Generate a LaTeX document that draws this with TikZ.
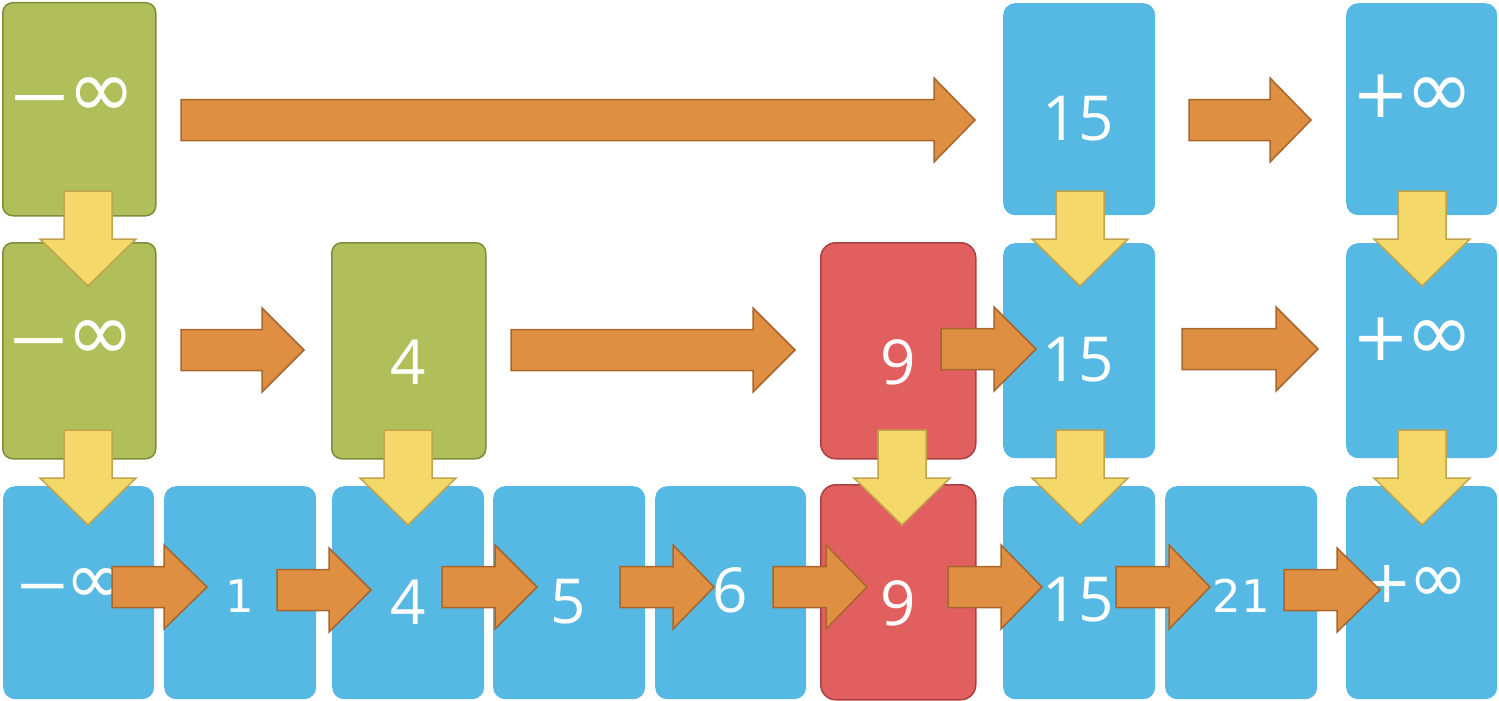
\documentclass[tikz,border=0pt]{standalone}
\usepackage{fontspec}
\setmainfont{Open Sans}
\newfontfamily\symfont{DejaVu Sans}
\definecolor{cblue}{HTML}{56B9E3}
\definecolor{cgreen}{HTML}{B0BF5A}
\definecolor{cgreenb}{HTML}{7F8C3C}
\definecolor{cred}{HTML}{E25F5F}
\definecolor{credb}{HTML}{A8413F}
\definecolor{corange}{HTML}{DF8F41}
\definecolor{corangeb}{HTML}{A8652C}
\definecolor{cyellow}{HTML}{F4D96A}
\definecolor{cyellowb}{HTML}{C0A44C}
\tikzset{
  box/.style={minimum width=152pt, minimum height=213pt, inner sep=0pt, anchor=north west},
  bluebox/.style={box, fill=cblue, rounded corners=12pt},
  greenbox/.style={box, fill=cgreen, draw=cgreenb, line width=1.5pt, rounded corners=10pt},
  redbox/.style={box, fill=cred, draw=credb, line width=1.5pt, rounded corners=15pt},
  num/.style={text=white, inner sep=0pt, font=\fontsize{62}{62}\selectfont},
  smallnum/.style={text=white, inner sep=0pt, font=\symfont\fontsize{45}{45}\selectfont},
  inf/.style={text=white, inner sep=0pt, anchor=base, font=\symfont},
  oarrow/.style={fill=corange, draw=corangeb, line width=1.5pt, line join=miter},
  yarrow/.style={fill=cyellow, draw=cyellowb, line width=1.5pt, line join=miter}
}
% sign size, infinity size
\newcommand{\minf}[2]{\scalebox{1.25}[1]{\fontsize{#1}{#1}\selectfont −}\kern-5pt{\fontsize{#2}{#2}\selectfont ∞}}
\newcommand{\pinf}[2]{{\fontsize{#1}{#1}\selectfont +}\kern-4pt{\fontsize{#2}{#2}\selectfont ∞}}
\newcommand{\harr}[4]{%
  \draw[oarrow] ({#1},{#4-20.5}) -- ({#2},{#4-20.5}) -- ({#2},{#4-42}) -- ({#3},{#4})
    -- ({#2},{#4+42}) -- ({#2},{#4+20.5}) -- ({#1},{#4+20.5}) -- cycle;}
\newcommand{\varr}[2]{%
  \draw[yarrow] ({#1-24},{#2}) -- ({#1+24},{#2}) -- ({#1+24},{#2+48}) -- ({#1+48},{#2+48})
    -- ({#1},{#2+95}) -- ({#1-48},{#2+48}) -- ({#1-24},{#2+48}) -- cycle;}
\begin{document}
\begin{tikzpicture}[x=1pt, y=-1pt]
\useasboundingbox (0,0) rectangle (1499,701);
% row 1
\node[greenbox, minimum width=153pt] (g1) at (2,2) {};
\node[bluebox, minimum height=212pt] (b1a) at (1003,3) {};
\node[bluebox, minimum width=151pt, minimum height=212pt] (b1b) at (1346,3) {};
% row 2
\node[greenbox, minimum width=153pt, minimum height=216pt] (g2a) at (2,242) {};
\node[greenbox, minimum width=154pt, minimum height=216pt] (g2b) at (331,242) {};
\node[redbox, minimum width=155pt, minimum height=216pt] (r2) at (820,242) {};
\node[bluebox, minimum height=215pt] (b2a) at (1003,243) {};
\node[bluebox, minimum width=151pt, minimum height=215pt] (b2b) at (1346,243) {};
% row 3
\node[bluebox, minimum width=151pt] (b3a) at (3,486) {};
\node[bluebox] (b3b) at (164,486) {};
\node[bluebox] (b3c) at (332,486) {};
\node[bluebox] (b3d) at (493,486) {};
\node[bluebox, minimum width=151pt] (b3e) at (655,486) {};
\node[redbox, minimum width=155pt, minimum height=215pt] (r3) at (820,484) {};
\node[bluebox] (b3g) at (1003,486) {};
\node[bluebox] (b3h) at (1165,486) {};
\node[bluebox, minimum width=151pt] (b3i) at (1346,486) {};
% texts
\node[inf] (t1a) at (71.5,117) {\minf{62}{82}};
\node[num] (t1b) at (1078,119) {15};
\node[inf] (t1c) at (1413.5,117) {\pinf{68}{82}};
\node[inf] (t2a) at (71,360) {\minf{62}{82}};
\node[num] (t2b) at (408,362) {4};
\node[num] (t2c) at (898,362) {9};
\node[num] (t2d) at (1078,360) {15};
\node[inf] (t2e) at (1413.5,360) {\pinf{68}{82}};
\node[inf] (t3a) at (70,603) {\minf{54}{72}};
\node[smallnum] (t3b) at (240,596) {1};
\node[num] (t3c) at (408,602) {4};
\node[num] (t3d) at (568,602) {5};
\node[num] (t3e) at (730,590) {6};
\node[num] (t3f) at (898,603) {9};
\node[num] (t3g) at (1078,600) {15};
\node[smallnum] (t3h) at (1241,596) {21};
\node[inf] (t3i) at (1415.5,602) {\pinf{59}{72}};
% orange arrows
\harr{181}{934}{975}{120}
\harr{1189}{1270}{1311}{120}
\harr{181}{262}{304}{350}
\harr{511}{753}{795}{350}
\harr{941}{994}{1036}{349}
\harr{1182}{1276}{1318}{349}
\harr{112}{164}{207}{587}
\harr{277}{329}{371}{590}
\harr{442}{495}{537}{587}
\harr{620}{673}{714}{587}
\harr{773}{826}{867}{587}
\harr{948}{1001}{1042}{587}
\harr{1116}{1169}{1210}{587}
\harr{1284}{1337}{1380}{590}
% yellow arrows
\varr{88}{191}
\varr{1080}{191}
\varr{1422}{191}
\varr{88}{430}
\varr{408}{430}
\varr{902}{430}
\varr{1080}{430}
\varr{1422}{430}
\end{tikzpicture}
\end{document}
